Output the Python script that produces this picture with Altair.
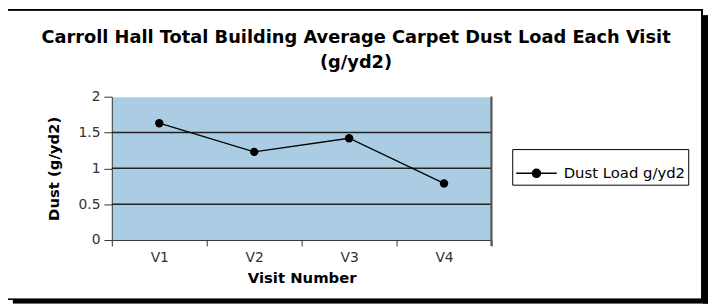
import altair as alt
import pandas as pd

visits = ["V1", "V2", "V3", "V4"]
dust = [1.63, 1.23, 1.42, 0.79]
series = "Dust Load g/yd2"
grid_values = [0.5, 1.0, 1.5]
y_ticks = [0, 0.5, 1, 1.5, 2]
title_lines = ["Carroll Hall Total Building Average Carpet Dust Load Each Visit", "(g/yd2)"]

df = pd.DataFrame({"Visit": visits, "Dust": dust, "Series": [series] * len(visits)})
grid_df = pd.DataFrame({"g": grid_values})

FONT = "DejaVu Sans"
W, H = 384, 145

x_enc = alt.X("Visit:N", sort=visits,
              scale=alt.Scale(paddingInner=0, paddingOuter=0),
              axis=alt.Axis(title="Visit Number", labelAngle=0, tickBand="extent",
                            domainColor="#333333", tickColor="#333333", tickSize=6,
                            labelFont=FONT, labelFontSize=14, labelColor="#333333",
                            labelPadding=5, titleFont=FONT, titleFontSize=15,
                            titleFontWeight="bold", titleColor="black", titlePadding=6,
                            grid=False))
y_scale = alt.Scale(domain=[0, 2], nice=False)
y_axis = alt.Axis(title="Dust (g/yd2)", values=y_ticks, grid=False, labelOverlap=False,
                  format="~g",
                  domainColor="#333333", tickColor="#333333", tickSize=8,
                  labelFont=FONT, labelFontSize=14, labelColor="#333333", labelPadding=4,
                  titleFont=FONT, titleFontSize=15, titleFontWeight="bold",
                  titleColor="black", titlePadding=17)

grid = alt.Chart(grid_df).mark_rule(color="#222222", strokeWidth=1.5).encode(
    y=alt.Y("g:Q", scale=y_scale, axis=y_axis)
)

right_border = alt.Chart(grid_df).mark_rule(color="#555555", strokeWidth=1.5).encode(
    x=alt.value(W), y=alt.value(0), y2=alt.value(H + 6)
)

legend_path = "M-1,0H1M0.2,0A0.2,0.2,0,1,1,-0.2,0A0.2,0.2,0,1,1,0.2,0Z"

line = alt.Chart(df).mark_line(
    strokeWidth=1.3,
    point=alt.OverlayMarkDef(size=72, filled=True, color="black", opacity=1),
).encode(
    x=x_enc,
    y=alt.Y("Dust:Q", scale=y_scale, axis=y_axis),
    color=alt.Color("Series:N", scale=alt.Scale(range=["black"]),
                    legend=alt.Legend(title=None, orient="none", legendX=405, legendY=53,
                                      symbolType=legend_path, symbolSize=1681,
                                      symbolStrokeWidth=1.5, symbolFillColor="black",
                                      symbolStrokeColor="black",
                                      labelFont=FONT, labelFontSize=15, labelColor="black",
                                      strokeColor="black", padding=3, labelOffset=6))
)

title_layers = []
for i, (txt, ypos) in enumerate(zip(title_lines, [-54, -29])):
    title_layers.append(
        alt.Chart(pd.DataFrame({"t": [txt]})).mark_text(
            font=FONT, fontSize=18, fontWeight="bold", color="black",
            align="center", baseline="alphabetic").encode(
            text="t:N", x=alt.value(247), y=alt.value(ypos))
    )

frame = alt.Chart(grid_df).mark_rect(fill="white", fillOpacity=0, stroke="black",
                                     strokeWidth=1.5).encode(
    x=alt.value(-106), x2=alt.value(597), y=alt.value(-88), y2=alt.value(205)
)
shadow_r = alt.Chart(grid_df).mark_rect(color="black").encode(
    x=alt.value(598), x2=alt.value(603), y=alt.value(-82), y2=alt.value(209)
)
shadow_b = alt.Chart(grid_df).mark_rect(color="black").encode(
    x=alt.value(-100), x2=alt.value(603), y=alt.value(206), y2=alt.value(209)
)

chart = alt.layer(shadow_r, shadow_b, frame, grid, line, right_border,
                  *title_layers).properties(
    width=W, height=H,
    padding={"left": 105, "top": 88, "right": 219, "bottom": 64},
    autosize=alt.AutoSizeParams(type="none"),
    background="white",
).configure_view(fill="#abcde3", stroke="transparent")

chart.save("out.html", embed_options={"renderer": "svg", "actions": False})
